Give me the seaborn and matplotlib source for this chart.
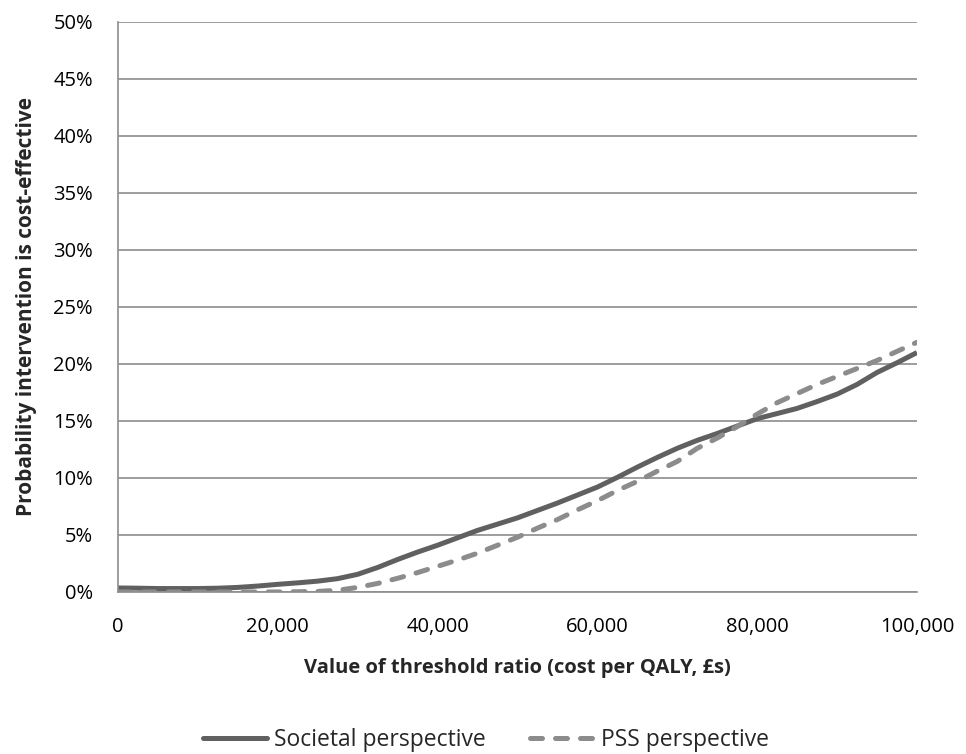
import pandas as pd
import matplotlib.pyplot as plt
import matplotlib.ticker as mtick
import seaborn as sns

# values, every 2,500
threshold = list(range(0, 100001, 2500))
societal = [0.35, 0.33, 0.3, 0.3, 0.3, 0.33, 0.4, 0.52, 0.67, 0.8,
            0.95, 1.17, 1.55, 2.15, 2.85, 3.5, 4.1, 4.75, 5.4, 5.95,
            6.5, 7.15, 7.8, 8.5, 9.2, 10.05, 10.95, 11.8, 12.6, 13.3,
            13.9, 14.55, 15.2, 15.65, 16.1, 16.7, 17.35, 18.2, 19.25, 20.1,
            21.0]
pss = [0.0, 0.0, 0.0, 0.0, 0.0, 0.0, 0.0, 0.0, 0.0, 0.02,
       0.05, 0.15, 0.4, 0.75, 1.2, 1.7, 2.25, 2.8, 3.4, 4.1,
       4.8, 5.6, 6.35, 7.2, 8.0, 8.9, 9.7, 10.6, 11.45, 12.6,
       13.5, 14.5, 15.6, 16.6, 17.4, 18.2, 18.9, 19.6, 20.3, 21.1,
       21.9]
series_names = ['Societal perspective', 'PSS perspective']

df = pd.concat([
    pd.DataFrame({'x': threshold, 'y': societal, 'Perspective': series_names[0]}),
    pd.DataFrame({'x': threshold, 'y': pss, 'Perspective': series_names[1]}),
])

sns.set_style('white')
plt.rcParams['font.family'] = ['Open Sans', 'DejaVu Sans']

fig = plt.figure(figsize=(9.66, 7.54), dpi=100)
ax = fig.add_axes([0.1222, 0.2149, 0.827, 0.756])

dash = (2.4, 2.6)
sns.lineplot(data=df, x='x', y='y', hue='Perspective', style='Perspective',
             palette={series_names[0]: '#606060', series_names[1]: '#8c8c8c'},
             dashes={series_names[0]: '', series_names[1]: dash},
             linewidth=3.6, ax=ax, legend=False)
for ln in ax.lines:
    ln.set_dash_capstyle('round')
    ln.set_solid_capstyle('butt')
    ln.set_solid_joinstyle('round')
    ln.set_dash_joinstyle('round')

ax.set_xlim(0, 100000)
ax.set_ylim(0, 50)
ax.set_xticks(range(0, 100001, 20000))
ax.set_yticks(range(0, 51, 5))
ax.xaxis.set_major_formatter(mtick.FuncFormatter(lambda v, p: f'{int(v):,}'))
ax.yaxis.set_major_formatter(mtick.FuncFormatter(lambda v, p: f'{int(v)}%'))
ax.grid(axis='y', color='#8c8c8c', linewidth=1.2)
ax.set_axisbelow(True)
for s in ['top', 'right']:
    ax.spines[s].set_visible(False)
for s in ['left', 'bottom']:
    ax.spines[s].set_color('#8c8c8c')
    ax.spines[s].set_linewidth(1.2)
ax.tick_params(axis='both', direction='out', length=5, width=1.2, color='#8c8c8c',
               labelsize=14.5, colors='#8c8c8c', labelcolor='black')
ax.tick_params(axis='y', pad=13)
ax.tick_params(axis='x', pad=13)

ax.set_xlabel('Value of threshold ratio (cost per QALY, £s)', fontsize=14.5,
              fontweight='bold', labelpad=15)
ax.set_ylabel('Probability intervention is cost-effective', fontsize=15,
              fontweight='bold', labelpad=12)

handles = [plt.Line2D([], [], color='#606060', lw=3.6),
           plt.Line2D([], [], color='#8c8c8c', lw=3.6, dashes=dash, dash_capstyle='round')]
fig.legend(handles, series_names, loc='center', bbox_to_anchor=(0.503, 0.019), ncol=2,
           frameon=False, fontsize=16.5, handlelength=2.8, handletextpad=0.3,
           columnspacing=1.9, borderpad=0)

fig.savefig('out.png', dpi=100)
